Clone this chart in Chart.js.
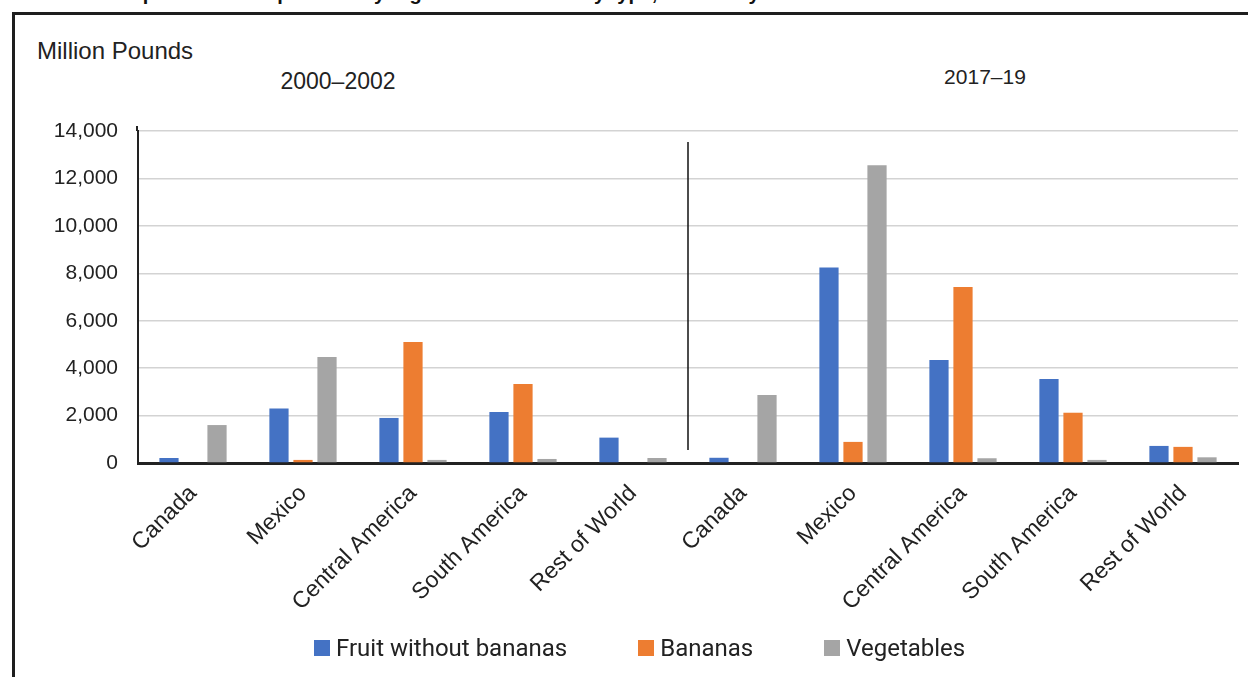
<!DOCTYPE html>
<html>
<head>
<meta charset="utf-8">
<script src="https://cdn.jsdelivr.net/npm/chart.js@4/dist/chart.umd.min.js"></script>
<style>
  body { margin: 0; width: 1248px; height: 677px; overflow: hidden; position: relative; background: #fff; font-family: "Liberation Sans", Arial, sans-serif; color: #222; }
  #frame { position: absolute; left: 12px; top: 12px; width: 1300px; height: 700px; border-top: 3px solid #1e1e1e; border-left: 3px solid #1e1e1e; }
  #title { position: absolute; left: 75px; top: -18px; font: bold 20px "Liberation Sans", Arial, sans-serif; white-space: nowrap; color: #111; }
  #unit { position: absolute; left: 37px; top: 37px; font-size: 24px; }
  .period { position: absolute; transform: translateX(-50%); white-space: nowrap; }
  #legend { position: absolute; left: 314px; top: 634px; display: flex; font: 24px Roboto, sans-serif; }
  .item { display: flex; align-items: center; margin-right: 71px; }
  .box { width: 16px; height: 16px; margin-right: 6px; }
  canvas { position: absolute; left: 0; top: 0; }
</style>
</head>
<body>
<div id="title">U.S. imports of fresh produce by region and commodity type, selected years</div>
<div id="frame"></div>
<div id="unit">Million Pounds</div>
<div class="period" id="p0" style="left:338px; top:68px; font-size:23px;"></div>
<div class="period" id="p1" style="left:985px; top:65px; font-size:21px;"></div>
<canvas id="chart" width="1248" height="677"></canvas>
<div id="legend"></div>
<script>
// Regions, repeated for each period
var regions = ["Canada", "Mexico", "Central America", "South America", "Rest of World"];
var periods = ["2000\u20132002", "2017\u201319"];
var categories = regions.concat(regions);

// Million pounds, first five = 2000-2002, last five = 2017-19
var fruitWithoutBananas = [210, 2300, 1900, 2150, 1070, 220, 8240, 4345, 3540, 720];
var bananas = [0, 130, 5100, 3330, 0, 0, 890, 7420, 2120, 680];
var vegetables = [1600, 4470, 130, 170, 210, 2870, 12560, 200, 130, 240];

var yTicks = [0, 2000, 4000, 6000, 8000, 10000, 12000, 14000];

document.getElementById("p0").textContent = periods[0];
document.getElementById("p1").textContent = periods[1];

// Vertical line between the two periods, plus the y axis line running a bit above the top
var dividerPlugin = {
  id: "divider",
  afterDatasetsDraw: function (chart) {
    var x = chart.scales.x;
    var area = chart.chartArea;
    var px = (x.getPixelForValue(4) + x.getPixelForValue(5)) / 2;
    var ctx = chart.ctx;
    ctx.save();
    ctx.strokeStyle = "#111";
    ctx.lineWidth = 1.5;
    ctx.beginPath();
    ctx.moveTo(px, area.top + 11);
    ctx.lineTo(px, area.bottom - 13);
    ctx.stroke();
    ctx.strokeStyle = "#222";
    ctx.lineWidth = 2;
    ctx.beginPath();
    ctx.moveTo(area.left - 1, area.top - 5);
    ctx.lineTo(area.left - 1, area.top);
    ctx.stroke();
    ctx.restore();
  }
};

var chart = new Chart(document.getElementById("chart"), {
  type: "bar",
  data: {
    labels: categories,
    datasets: [
      { label: "Fruit without bananas", data: fruitWithoutBananas, backgroundColor: "#4472C4" },
      { label: "Bananas", data: bananas, backgroundColor: "#ED7D31" },
      { label: "Vegetables", data: vegetables, backgroundColor: "#A5A5A5" }
    ]
  },
  options: {
    responsive: false,
    animation: false,
    layout: { padding: { top: 131, right: 10, left: 0, bottom: 0 } },
    datasets: { bar: { categoryPercentage: 0.655, barPercentage: 0.8 } },
    plugins: { legend: { display: false }, tooltip: { enabled: false } },
    scales: {
      x: {
        grid: { display: false },
        border: { color: "#222", width: 3 },
        ticks: {
          color: "#222",
          font: { family: "Liberation Sans", size: 23 },
          maxRotation: 45,
          minRotation: 45,
          autoSkip: false,
          padding: 9
        },
        afterFit: function (scale) { scale.height = 214; }
      },
      y: {
        min: 0,
        max: 14000,
        afterBuildTicks: function (scale) {
          scale.ticks = yTicks.map(function (v) { return { value: v }; });
        },
        grid: { color: "#d3d3d3", lineWidth: 1.5, drawTicks: false },
        border: { color: "#222", width: 2 },
        ticks: {
          color: "#222",
          padding: 20,
          font: { family: "Liberation Sans", size: 21 },
          callback: function (v) { return v.toLocaleString("en-US"); }
        },
        afterFit: function (scale) { scale.width = 138; }
      }
    }
  },
  plugins: [dividerPlugin]
});

// Legend built from the datasets
var legend = document.getElementById("legend");
chart.data.datasets.forEach(function (ds) {
  var item = document.createElement("div");
  item.className = "item";
  var box = document.createElement("div");
  box.className = "box";
  box.style.background = ds.backgroundColor;
  var txt = document.createElement("span");
  txt.textContent = ds.label;
  item.appendChild(box);
  item.appendChild(txt);
  legend.appendChild(item);
});
</script>
</body>
</html>
